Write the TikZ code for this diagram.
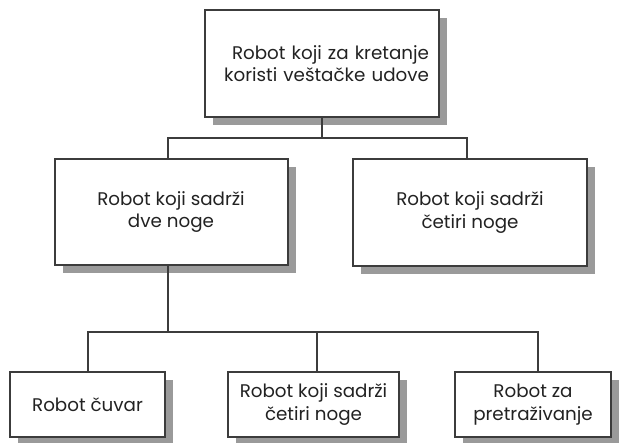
\documentclass[tikz,border=0pt]{standalone}
\usepackage{fontspec}
\setmainfont{Poppins}
\usetikzlibrary{shadows}
\definecolor{ink}{HTML}{3C3C3C}
\definecolor{txt}{HTML}{222222}
\definecolor{shade}{HTML}{9A9A9A}
\begin{document}
\begin{tikzpicture}[x=1pt,y=-1pt,
  box/.style={draw=ink, line width=2pt, fill=white, inner sep=0pt, align=center,
    text=txt, font=\fontsize{18.3}{22.5}\selectfont,
    drop shadow={shadow xshift=8pt, shadow yshift=-8pt, fill=shade, opacity=1}},
  wire/.style={draw=ink, line width=2pt}]
\useasboundingbox (0,0) rectangle (620,443);
\fill[white] (0,0) rectangle (620,443);
% boxes
\node[box, minimum width=234pt, minimum height=107pt, text width=214pt, align=right] (top) at (322,63.5)
  {Robot koji za kretanje\\koristi veštačke udove};
\node[box, minimum width=233pt, minimum height=106pt] (ml) at (171,212)
  {Robot koji sadrži\\dve noge};
\node[box, minimum width=234pt, minimum height=107pt] (mr) at (470,212.5)
  {Robot koji sadrži\\četiri noge};
\node[box, minimum width=155pt, minimum height=65pt] (b1) at (87.5,404.5)
  {Robot čuvar};
\node[box, minimum width=171pt, minimum height=65pt] (b2) at (313.5,404.5)
  {Robot koji sadrži\\četiri noge};
\node[box, minimum width=156pt, minimum height=65pt] (b3) at (533,404.5)
  {Robot za\\pretraživanje};
% connectors
\draw[wire] (top.south) -- ++(0,20) coordinate (j1);
\draw[wire] ([xshift=-3pt]ml.north) |- (j1) -| ([xshift=-3pt]mr.north);
\draw[wire] ([xshift=-3pt]ml.south) -- ++(0,66) coordinate (j2);
\draw[wire] (b1.north) |- (j2) -| ([xshift=5pt]b3.north);
\draw[wire] ([xshift=3pt]b2.north) -- ([xshift=3pt]b2.north |- j2);
\end{tikzpicture}
\end{document}
